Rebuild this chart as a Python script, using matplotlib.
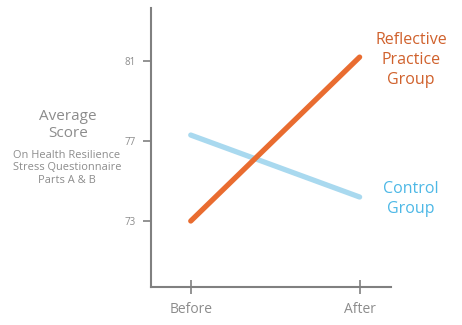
import matplotlib.pyplot as plt

plt.rcParams['font.family'] = ['Open Sans', 'DejaVu Sans']

phases = ["Before", "After"]
reflective = [73.0, 81.2]
control = [77.3, 74.2]
y_ticks = [73, 77, 81]

gray = "#808080"
orange = "#E96C30"
blue = "#A9D9EF"

fig = plt.figure(figsize=(4.62, 3.25), dpi=100)
ax = fig.add_axes([0.327, 0.117, 0.519, 0.858])

x = list(range(len(phases)))
ax.plot(x, control, color=blue, linewidth=3.8, solid_capstyle='round')
ax.plot(x, reflective, color=orange, linewidth=3.8, solid_capstyle='round')

ax.set_xlim(-0.235, 1.185)
ax.set_ylim(69.7, 83.65)
ax.set_xticks(x)
ax.set_xticklabels(phases, fontsize=10, color="#8c8c8c")
ax.set_yticks(y_ticks)
ax.set_yticklabels([str(v) for v in y_ticks], fontsize=7, color="#8c8c8c")
ax.tick_params(axis='x', direction='inout', length=10, width=1.2, color=gray, pad=6)
ax.tick_params(axis='y', direction='out', length=6, width=1.2, color=gray, pad=5)

for s in ['top', 'right']:
    ax.spines[s].set_visible(False)
for s in ['left', 'bottom']:
    ax.spines[s].set_color(gray)
    ax.spines[s].set_linewidth(1.5)

fig.text(68 / 462, 1 - 125 / 325, "Average\nScore", ha='center', va='center',
         fontsize=11, color="#8c8c8c", linespacing=1.25)
fig.text(67 / 462, 1 - 168 / 325, "On Health Resilience\nStress Questionnaire\nParts A & B",
         ha='center', va='center', fontsize=7.9, color="#8c8c8c", linespacing=1.2)

fig.text(411 / 462, 1 - 60 / 325, "Reflective\nPractice\nGroup", ha='center', va='center',
         fontsize=11.5, color="#D0612C", linespacing=1.35)
fig.text(411 / 462, 1 - 199 / 325, "Control\nGroup", ha='center', va='center',
         fontsize=11.5, color="#4DB8E6", linespacing=1.35)

fig.savefig("out.png", dpi=100)
